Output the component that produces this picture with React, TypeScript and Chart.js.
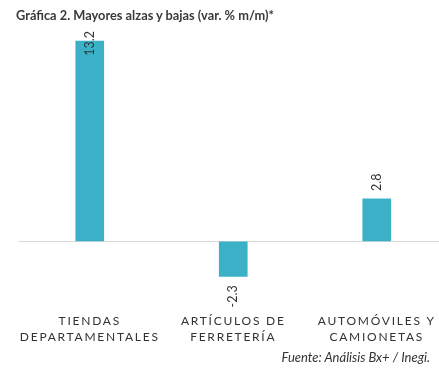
import React, { useEffect, useRef } from "react";
import { Chart, registerables } from "chart.js";

Chart.register(...registerables);

const TITLE = "Gráfica 2. Mayores alzas y bajas (var. % m/m)*";
const SOURCE = "Fuente: Análisis Bx+ / Inegi.";
const CATEGORIES: string[][] = [
  ["TIENDAS", "DEPARTAMENTALES"],
  ["ARTÍCULOS DE", "FERRETERÍA"],
  ["AUTOMÓVILES Y", "CAMIONETAS"],
];
const VALUES: number[] = [13.2, -2.3, 2.8];
const VALUE_LABELS: string[] = ["13.2", "-2.3", "2.8"];

const BAR_COLOR = "#3BB1C8";
const FONT = "Lato, 'Open Sans', sans-serif";

const letterSpacingPlugin = {
  id: "letterSpacing",
  beforeDraw(chart: any) {
    (chart.ctx as any).letterSpacing = "1.75px";
  },
  afterDraw(chart: any) {
    (chart.ctx as any).letterSpacing = "0px";
  },
};

const valueLabelPlugin = {
  id: "valueLabels",
  afterDatasetsDraw(chart: any) {
    const ctx = chart.ctx as CanvasRenderingContext2D;
    const meta = chart.getDatasetMeta(0);
    ctx.save();
    (ctx as any).letterSpacing = "0px";
    ctx.font = `12.5px ${FONT}`;
    ctx.fillStyle = "#333333";
    ctx.textBaseline = "middle";
    meta.data.forEach((el: any, i: number) => {
      const v = VALUES[i];
      const txt = VALUE_LABELS[i];
      const w = ctx.measureText(txt).width;
      const gap = 8;
      ctx.save();
      if (v >= 0) {
        let start = el.y - gap;
        if (start - w < 31) start = 31 + w;
        ctx.translate(el.x, start);
        ctx.rotate(-Math.PI / 2);
        ctx.textAlign = "left";
        ctx.fillText(txt, 0, 0);
      } else {
        const end = el.y + gap + 1;
        ctx.translate(el.x, end);
        ctx.rotate(-Math.PI / 2);
        ctx.textAlign = "right";
        ctx.fillText(txt, 0, 0);
      }
      ctx.restore();
    });
    ctx.restore();
  },
};

export default function App() {
  const ref = useRef<HTMLCanvasElement | null>(null);

  useEffect(() => {
    if (!ref.current) return;
    const chart = new Chart(ref.current, {
      type: "bar",
      data: {
        labels: CATEGORIES,
        datasets: [
          {
            data: VALUES,
            backgroundColor: BAR_COLOR,
            borderWidth: 0,
            barThickness: 28,
          },
        ],
      },
      options: {
        animation: false,
        responsive: false,
        maintainAspectRatio: false,
        layout: { padding: { left: 18, right: 11.5, top: 29, bottom: 11.5 } },
        plugins: {
          legend: { display: false },
          title: { display: false },
          tooltip: { enabled: false },
        },
        scales: {
          x: {
            grid: { display: false, drawTicks: false },
            border: { display: false },
            ticks: {
              autoSkip: false,
              maxRotation: 0,
              minRotation: 0,
              padding: 11,
              color: "#333333",
              font: { family: FONT, size: 12, lineHeight: 1.35 },
            },
          },
          y: {
            min: -4,
            max: 14,
            ticks: { display: false, stepSize: 2 },
            border: { display: false },
            grid: {
              drawTicks: false,
              color: (c: any) => (c.tick && c.tick.value === 0 ? "#d9d9d9" : "rgba(0,0,0,0)"),
              lineWidth: 1,
            },
          },
        },
      },
      plugins: [letterSpacingPlugin, valueLabelPlugin],
    });
    return () => chart.destroy();
  }, []);

  return (
    <div
      style={{
        position: "absolute",
        left: 0,
        top: 0,
        width: 439,
        height: 368,
        overflow: "hidden",
        background: "#ffffff",
      }}
    >
      <canvas ref={ref} width={460} height={368} style={{ position: "absolute", left: 0, top: 0 }} />
      <div
        style={{
          position: "absolute",
          left: 16,
          top: 7,
          fontFamily: FONT,
          fontWeight: 700,
          fontSize: 12.8,
          color: "#3a3a3a",
          whiteSpace: "nowrap",
        }}
      >
        {TITLE}
      </div>
      <div
        style={{
          position: "absolute",
          right: 9,
          top: 349,
          fontFamily: FONT,
          fontStyle: "italic",
          fontSize: 13,
          color: "#333333",
          whiteSpace: "nowrap",
        }}
      >
        {SOURCE}
      </div>
    </div>
  );
}
